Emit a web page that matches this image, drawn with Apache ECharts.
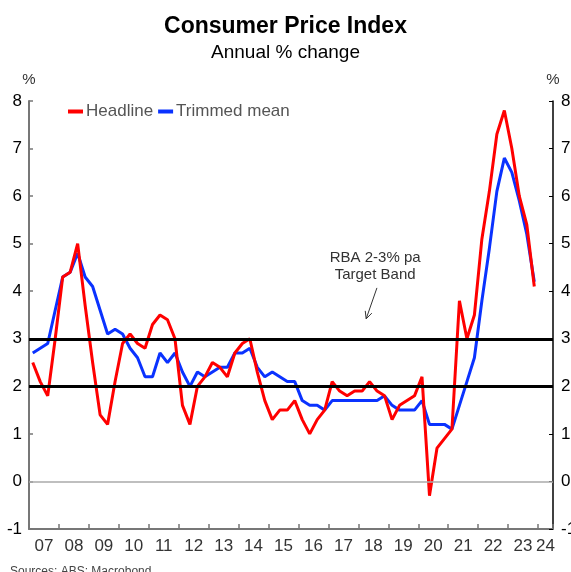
<!DOCTYPE html>
<html><head><meta charset="utf-8">
<script src="https://cdn.jsdelivr.net/npm/echarts@6/dist/echarts.min.js"></script>
<style>html,body{margin:0;padding:0;background:#fff}#c{width:571px;height:572px}</style>
</head><body><div id="c"></div>
<script>
// Quarterly data, Q1 2007 .. Q4 2023
const startYear = 2007;
const quarters = [];
for (let y = 2007; y <= 2023; y++) for (let q = 1; q <= 4; q++) quarters.push(y + 'Q' + q);

const headline = [
  2.5, 2.1, 1.8, 3.0,   // 2007
  4.3, 4.4, 5.0, 3.7,   // 2008
  2.5, 1.4, 1.2, 2.1,   // 2009
  2.9, 3.1, 2.9, 2.8,   // 2010
  3.3, 3.5, 3.4, 3.0,   // 2011
  1.6, 1.2, 2.0, 2.2,   // 2012
  2.5, 2.4, 2.2, 2.7,   // 2013
  2.9, 3.0, 2.3, 1.7,   // 2014
  1.3, 1.5, 1.5, 1.7,   // 2015
  1.3, 1.0, 1.3, 1.5,   // 2016
  2.1, 1.9, 1.8, 1.9,   // 2017
  1.9, 2.1, 1.9, 1.8,   // 2018
  1.3, 1.6, 1.7, 1.8,   // 2019
  2.2, -0.3, 0.7, 0.9,  // 2020
  1.1, 3.8, 3.0, 3.5,   // 2021
  5.1, 6.1, 7.3, 7.8,   // 2022
  7.0, 6.0, 5.4, 4.1    // 2023
];
const trimmedMean = [
  2.7, 2.8, 2.9, 3.6,   // 2007
  4.3, 4.4, 4.8, 4.3,   // 2008
  4.1, 3.6, 3.1, 3.2,   // 2009
  3.1, 2.8, 2.6, 2.2,   // 2010
  2.2, 2.7, 2.5, 2.7,   // 2011
  2.3, 2.0, 2.3, 2.2,   // 2012
  2.3, 2.4, 2.4, 2.7,   // 2013
  2.7, 2.8, 2.4, 2.2,   // 2014
  2.3, 2.2, 2.1, 2.1,   // 2015
  1.7, 1.6, 1.6, 1.5,   // 2016
  1.7, 1.7, 1.7, 1.7,   // 2017
  1.7, 1.7, 1.7, 1.8,   // 2018
  1.6, 1.5, 1.5, 1.5,   // 2019
  1.7, 1.2, 1.2, 1.2,   // 2020
  1.1, 1.6, 2.1, 2.6,   // 2021
  3.8, 4.9, 6.1, 6.8,   // 2022
  6.5, 5.9, 5.2, 4.2    // 2023
];
const yearLabels = ['07','08','09','10','11','12','13','14','15','16','17','18','19','20','21','22','23','24'];
const targetBand = [2, 3];
const annotationLines = ['RBA 2-3% pa', 'Target Band'];
const annotationAt = [2018.56, 4.52];
const arrowFrom = [2018.62, 4.07];
const arrowTo = [2018.26, 3.42];

// mid-quarter decimal year
function qx(s) { const y = +s.slice(0, 4), q = +s.slice(5); return y + (q - 1) * 0.25 + 0.125; }
const hData = quarters.map((s, i) => [qx(s), headline[i]]);
const tData = quarters.map((s, i) => [qx(s), trimmedMean[i]]);

const chart = echarts.init(document.getElementById('c'));
const FONT = 'Liberation Sans, Arial, sans-serif';
chart.setOption({
  animation: false,
  textStyle: { fontFamily: FONT },
  title: [
    { text: 'Consumer Price Index', left: 'center', top: 10,
      textStyle: { fontSize: 23, fontWeight: 'bold', color: '#000', fontFamily: FONT } },
    { text: 'Annual % change', left: 'center', top: 38,
      textStyle: { fontSize: 19, fontWeight: 'normal', color: '#000', fontFamily: FONT } }
  ],
  legend: {
    data: ['Headline', 'Trimmed mean'],
    left: 63, top: 98, itemWidth: 15, itemHeight: 4, itemGap: 5,
    icon: 'rect',
    textStyle: { fontSize: 17, color: '#555', fontFamily: FONT, padding: [0, 0, 0, -2] }
  },
  grid: { left: 29, right: 18, top: 101, bottom: 43, containLabel: false, outerBoundsMode: 'none' },
  xAxis: [
    { type: 'value', min: 2007, max: 2024.5, interval: 1, position: 'bottom',
      axisLine: { show: true, onZero: false, lineStyle: { color: '#777', width: 2 } },
      axisTick: { show: true, inside: true, length: 5, lineStyle: { color: '#777', width: 1.5 } },
      axisLabel: { show: false }, splitLine: { show: false } },
    { type: 'value', min: 2007, max: 2024.5, interval: 0.25, position: 'bottom',
      axisLine: { show: false, onZero: false }, axisTick: { show: false }, splitLine: { show: false },
      axisLabel: { show: true, fontSize: 17, color: '#333', margin: 9, fontFamily: FONT,
        formatter: v => {
          const f = v - Math.floor(v);
          if (Math.abs(v - 2024.25) < 1e-6) return yearLabels[yearLabels.length - 1];
          if (Math.abs(f - 0.5) < 1e-6 && v < 2024) return yearLabels[Math.floor(v) - startYear];
          return '';
        } } }
  ],
  yAxis: [
    { type: 'value', min: -1, max: 8, interval: 1, position: 'left',
      name: '%', nameLocation: 'end', nameGap: 14,
      nameTextStyle: { fontSize: 15, color: '#333', align: 'center', fontFamily: FONT },
      axisLine: { show: true, onZero: false, lineStyle: { color: '#777', width: 2 } },
      axisTick: { show: true, inside: true, length: 4, lineStyle: { color: '#777', width: 1.5 } },
      axisLabel: { fontSize: 17, color: '#000', margin: 7, fontFamily: FONT },
      splitLine: { show: false } },
    { type: 'value', min: -1, max: 8, interval: 1, position: 'right',
      name: '%', nameLocation: 'end', nameGap: 14,
      nameTextStyle: { fontSize: 15, color: '#333', align: 'center', fontFamily: FONT },
      axisLine: { show: true, onZero: false, lineStyle: { color: '#000', width: 1.5 } },
      axisTick: { show: true, inside: true, length: 4, lineStyle: { color: '#000', width: 1 } },
      axisLabel: { fontSize: 17, color: '#000', margin: 8, fontFamily: FONT },
      splitLine: { show: false } }
  ],
  series: [
    { name: 'refLines', type: 'line', data: [], z: 1, silent: true,
      markLine: { silent: true, symbol: ['none', 'none'], label: { show: false }, animation: false,
        data: [
          { yAxis: 0, lineStyle: { color: '#aaa', width: 1.5, type: 'solid' } },
          { yAxis: targetBand[0], lineStyle: { color: '#000', width: 3, type: 'solid' } },
          { yAxis: targetBand[1], lineStyle: { color: '#000', width: 3, type: 'solid' } }
        ] } },
    { name: 'Trimmed mean', type: 'line', data: tData, z: 3, showSymbol: false, symbol: 'none',
      itemStyle: { color: '#0a32ff' }, lineStyle: { color: '#0a32ff', width: 3 } },
    { name: 'Headline', type: 'line', data: hData, z: 4, showSymbol: false, symbol: 'none',
      itemStyle: { color: '#ff0000' }, lineStyle: { color: '#ff0000', width: 3 } }
  ]
});

// annotation, positioned through the axes
const toPx = p => chart.convertToPixel({ xAxisIndex: 0, yAxisIndex: 0 }, p);
const a0 = toPx(annotationAt);
const f = toPx(arrowFrom), t = toPx(arrowTo);
const ang = Math.atan2(t[1] - f[1], t[0] - f[0]);
const L = 8, spread = 0.45;
const arm1 = [t[0] - L * Math.cos(ang - spread), t[1] - L * Math.sin(ang - spread)];
const arm2 = [t[0] - L * Math.cos(ang + spread), t[1] - L * Math.sin(ang + spread)];
chart.setOption({
  graphic: [
    { type: 'text', x: a0[0], y: a0[1], style: { text: annotationLines.join('\n'), fill: '#333',
      font: '15px ' + FONT, align: 'center', verticalAlign: 'middle', lineHeight: 17 } },
    { type: 'line', shape: { x1: f[0], y1: f[1], x2: t[0], y2: t[1] }, style: { stroke: '#333', lineWidth: 1 } },
    { type: 'polyline', shape: { points: [arm1, t, arm2] }, style: { stroke: '#333', lineWidth: 1, fill: null } },
    { type: 'text', left: 10, top: 566, style: { text: 'Sources: ABS; Macrobond', fill: '#444', font: '12px ' + FONT } }
  ]
});
</script>
</body></html>
